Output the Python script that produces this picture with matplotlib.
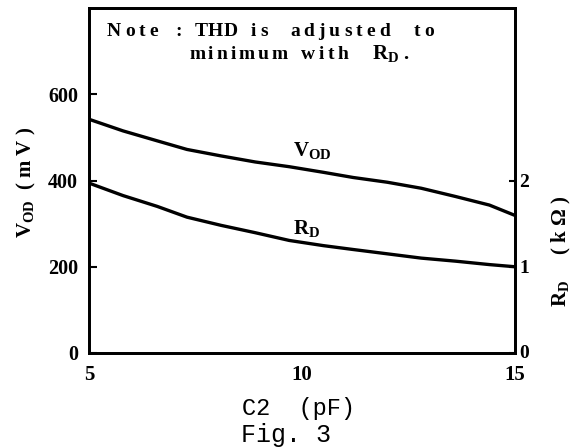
import matplotlib
matplotlib.use("Agg")
import matplotlib.pyplot as plt
import matplotlib.transforms as mtrans
import numpy as np

# Data
c2_pf = [5, 5.8, 6.6, 7.3, 8.1, 8.9, 9.7, 10.5, 11.2, 12.0, 12.8, 13.6, 14.4, 15]
vod_mv = [542, 515, 492, 472, 457, 443, 432, 419, 407, 396, 382, 363, 343, 319]
rd_kohm = [1.97, 1.825, 1.70, 1.575, 1.48, 1.395, 1.305, 1.245, 1.20, 1.15, 1.10, 1.065, 1.025, 1.00]

x_ticks = [5, 10, 15]
left_ticks = [0, 200, 400, 600]
right_ticks = [0, 1, 2]

plt.rcParams['mathtext.fontset'] = 'custom'
plt.rcParams['mathtext.rm'] = 'Liberation Serif:bold'
plt.rcParams['mathtext.it'] = 'Liberation Serif:bold'
plt.rcParams['mathtext.bf'] = 'Liberation Serif:bold'

SERIF = 'Liberation Serif'
MONO = 'Liberation Mono'
W, H = 575, 447

fig = plt.figure(figsize=(5.75, 4.47), dpi=100)
ax = fig.add_axes([89/W, 1-353/H, (515-89)/W, (353-8)/H])

ax.plot(c2_pf, vod_mv, color='black', lw=2.4, solid_capstyle='butt')
ax2 = ax.twinx()
ax2.plot(c2_pf, rd_kohm, color='black', lw=2.4, solid_capstyle='butt')

ax.set_xlim(5, 15)
ax.set_ylim(0, 800)
ax2.set_ylim(0, 4)

for a in (ax, ax2):
    for s in a.spines.values():
        s.set_linewidth(2.0)

ax.set_xticks(x_ticks)
ax.set_xticklabels([str(v) for v in x_ticks], fontfamily=SERIF, fontweight='bold', fontsize=15)
ax.tick_params(axis='x', length=0, pad=9)
ax.set_yticks(left_ticks)
ax.set_yticklabels([str(v) for v in left_ticks], fontfamily=SERIF, fontweight='bold', fontsize=14.5)
ax.tick_params(axis='y', direction='in', length=6, width=1.5, pad=8)
ax2.set_yticks(right_ticks)
ax2.set_yticklabels([str(v) for v in right_ticks], fontfamily=SERIF, fontweight='bold', fontsize=14)
ax2.tick_params(axis='y', direction='in', length=4, width=1.5, pad=3)
# lift the right-hand "0" by a couple of pixels so it clears the "15" below it
lbl0 = ax2.get_yticklabels()[0]
lbl0.set_transform(lbl0.get_transform() + mtrans.ScaledTranslation(0, 2/100, fig.dpi_scale_trans))

# curve labels
ax.text(9.8, 470, r'V$_{\mathrm{OD}}$', fontfamily=SERIF, fontweight='bold', fontsize=15, ha='left', va='center')
ax.text(9.8, 289, r'R$_{\mathrm{D}}$', fontfamily=SERIF, fontweight='bold', fontsize=15, ha='left', va='center')

# note with letter spacing
renderer = fig.canvas.get_renderer()
NOTE_FS = 14

def tracked_word(word, x_px, base_px, track_px):
    x = x_px
    for ch in word:
        t = fig.text(x / W, 1 - base_px / H, ch, fontfamily=SERIF, fontweight='bold',
                     fontsize=NOTE_FS, ha='left', va='baseline')
        bb = t.get_window_extent(renderer=renderer)
        x += bb.width + track_px
    return x

line1 = [('Note', 107, 4), (':', 175, 0), ('THD', 195, 0), ('is', 251, 4),
         ('adjusted', 290, 4), ('to', 414, 4)]
for w, x0, tr in line1:
    tracked_word(w, x0, 36, tr)

line2 = [('minimum', 189, 3), ('with', 301, 3.5)]
for w, x0, tr in line2:
    tracked_word(w, x0, 59, tr)
fig.text(372/W, 1 - 59/H, r'R$_{\mathrm{D}}$ .', fontfamily=SERIF, fontweight='bold',
         fontsize=NOTE_FS + 1, ha='left', va='baseline')

# axis labels
fig.text(26/W, 1-182/H, r'V$_{\mathrm{OD}}$  ( m V )', rotation=90,
         fontfamily=SERIF, fontweight='bold', fontsize=15, ha='center', va='center')
fig.text(561/W, 1-251/H, r'R$_{\mathrm{D}}$     ( k $\Omega$ )', rotation=90,
         fontfamily=SERIF, fontweight='bold', fontsize=15, ha='center', va='center')
fig.text(299/W, 1-409/H, 'C2  (pF)', fontfamily=MONO, fontsize=17, ha='center', va='center')
fig.text(286/W, 1-435/H, 'Fig. 3', fontfamily=MONO, fontsize=18, ha='center', va='center')

fig.savefig('out.png', dpi=100)
